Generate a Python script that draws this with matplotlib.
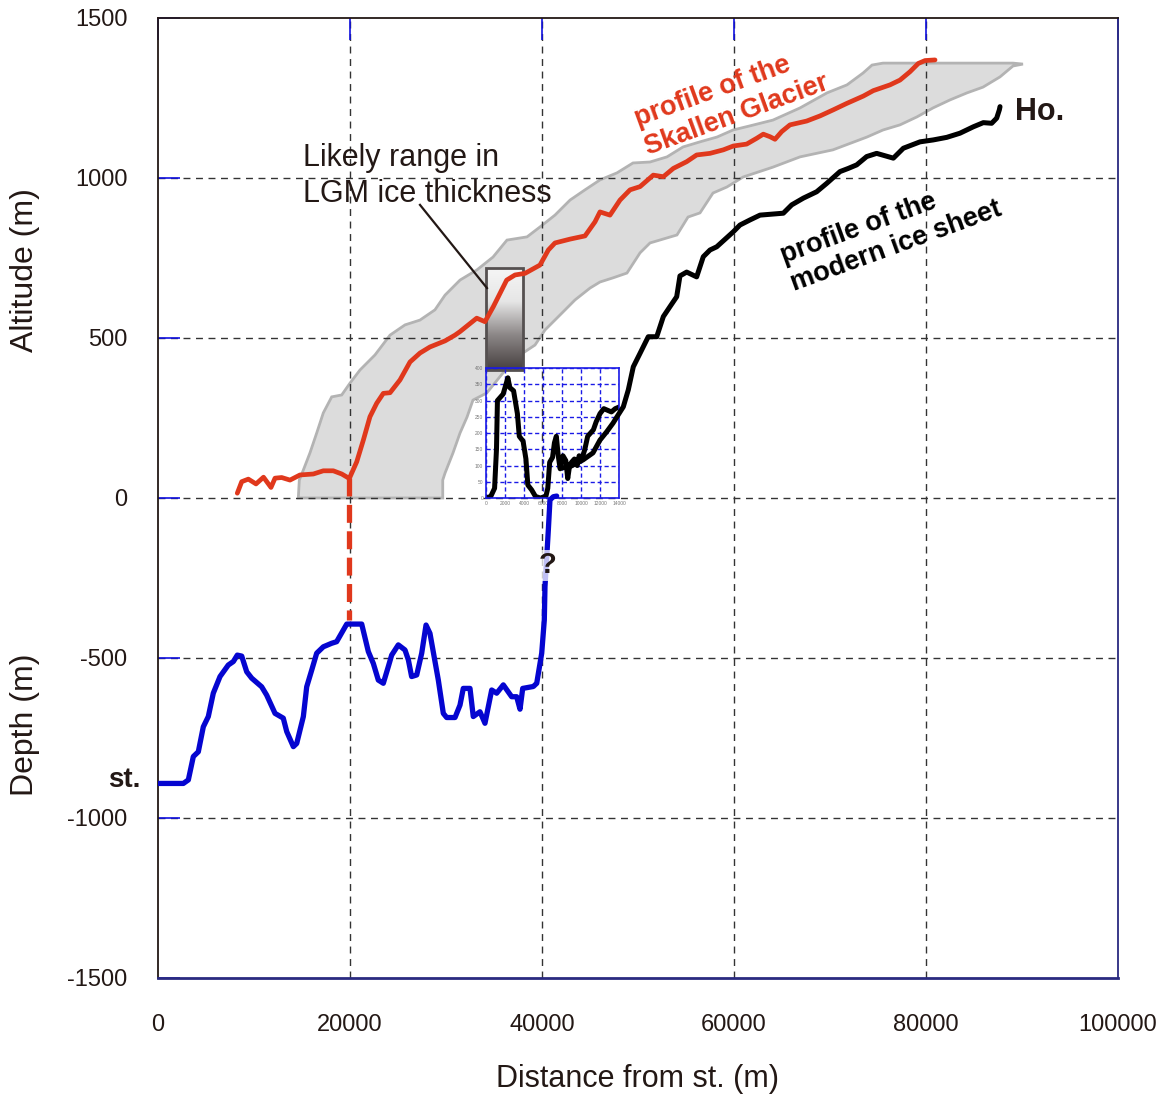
import numpy as np
import matplotlib
matplotlib.use("Agg")
import matplotlib.pyplot as plt
from matplotlib.colors import LinearSegmentedColormap
from matplotlib.patches import Rectangle

plt.rcParams['font.family'] = ['Liberation Sans', 'DejaVu Sans']
plt.rcParams['axes.unicode_minus'] = False

# red: surface profile of the Skallen Glacier (m, m)
skallen_x = [8260, 8720, 9410, 10210, 10990, 11770, 12190, 12880, 13750, 14790, 16180, 17220,
             18260, 19140, 19930, 20700, 21390, 22080, 22780, 23470, 24170, 25210, 26250, 27290,
             28330, 29900, 30940, 31460, 33200, 34060, 34930, 36320, 37190, 38230, 39790, 40660,
             41350, 42920, 44480, 45520, 46040, 47080, 48125, 49170, 50210, 51590, 52640, 53680,
             55070, 56110, 57500, 58890, 59930, 61320, 62360, 63050, 63750, 64270, 64970, 65830,
             67570, 68960, 70340, 71740, 73470, 74510, 76250, 77290, 78330, 79200, 79900, 80940]
skallen_y = [15, 51, 59, 44, 65, 33, 62, 64, 56, 72, 75, 85,
             85, 75, 61, 113, 181, 254, 296, 327, 329, 369, 425, 453,
             472, 491, 509, 520, 562, 551, 598, 681, 697, 702, 728, 775,
             797, 809, 819, 863, 894, 884, 931, 963, 973, 1009, 1004, 1030,
             1051, 1072, 1077, 1088, 1100, 1106, 1124, 1137, 1129, 1121, 1145, 1166,
             1178, 1194, 1213, 1233, 1256, 1273, 1291, 1306, 1332, 1358, 1367, 1369]

# grey band: likely LGM ice surface range
band_top_x = [14615, 14720, 15135, 15830, 16530, 17220, 18095, 19135, 20000, 21040, 22600, 24170,
              25730, 27290, 28850, 29900, 31460, 33230, 34900, 36350, 38440, 39790, 41350, 42920,
              44480, 46040, 47810, 49480, 51250, 53020, 54690, 56460, 58230, 59900, 61670, 64060,
              66880, 69690, 71770, 73440, 74380, 75520, 89060, 90100]
band_top_y = [0, 56, 87, 141, 203, 266, 316, 322, 359, 400, 447, 509,
              541, 556, 588, 634, 681, 713, 753, 806, 816, 847, 884, 931,
              963, 994, 1016, 1047, 1050, 1066, 1097, 1113, 1128, 1150, 1163, 1181,
              1219, 1266, 1291, 1328, 1353, 1359, 1359, 1356]
band_bot_x = [29660, 29660, 29900, 30730, 31460, 32190, 32810, 34240, 35940, 37710, 39270, 40310,
              41880, 43440, 45000, 46040, 47400, 48850, 50210, 51250, 54060, 55210, 56460, 57810,
              59270, 60940, 64060, 66880, 70310, 73850, 75520, 77290, 79060, 80730, 82500, 84270,
              85940, 87710, 89060]
band_bot_y = [0, 56, 78, 141, 203, 253, 306, 328, 391, 447, 478, 525,
              572, 619, 656, 675, 688, 703, 766, 797, 822, 878, 891, 953,
              972, 1003, 1034, 1066, 1088, 1128, 1150, 1166, 1191, 1219, 1244, 1266,
              1284, 1316, 1350]

# black: modern ice sheet profile
ice_x = [42080, 42920, 44270, 45310, 46040, 46740, 47400, 47920, 48470, 48990, 49510, 50210,
         51070, 51950, 52640, 53330, 54030, 54370, 55070, 56110, 56800, 57500, 58200, 59930,
         60620, 61670, 62710, 65140, 66010, 67220, 68610, 69650, 71040, 71910, 72780, 73820,
         74860, 76600, 77640, 79380, 80760, 82160, 83540, 84930, 85970, 86840, 87360, 87640, 87710]
ice_y = [94, 98, 119, 141, 181, 207, 234, 259, 285, 338, 410, 452,
         504, 504, 567, 598, 629, 694, 706, 691, 754, 775, 785, 832,
         853, 869, 884, 890, 916, 937, 957, 983, 1020, 1030, 1041, 1067,
         1077, 1062, 1093, 1113, 1119, 1127, 1140, 1160, 1173, 1171, 1187, 1213, 1223]

# blue: sea floor depth
depth_x = [0, 2640, 3160, 3680, 4200, 4720, 5240, 5760, 6460, 7320, 7850, 8260, 8720, 9240, 9760,
           10800, 11320, 12190, 13050, 13410, 14100, 14450, 15140, 15490, 16010, 16530, 17220,
           18090, 18610, 19660, 21220, 21910, 22430, 22950, 23470, 23990, 24340, 25030, 25730,
           26080, 26420, 26950, 27470, 27920, 28330, 29200, 29720, 30070, 30940, 31460, 31800,
           32500, 32840, 33540, 34060, 34760, 35280, 35970, 36840, 37360, 37710, 37990, 39100,
           39450, 39970, 40240, 40310, 40660, 40830, 41180, 41530]
depth_y = [-892, -892, -881, -808, -793, -715, -683, -610, -558, -522, -511, -491, -494, -543, -563,
           -590, -616, -673, -688, -730, -777, -767, -683, -590, -538, -485, -465,
           -454, -449, -394, -394, -480, -517, -569, -579, -527, -491, -459, -475,
           -506, -558, -553, -485, -397, -423, -569, -673, -686, -686, -647, -595,
           -595, -683, -668, -704, -600, -610, -584, -621, -621, -660, -595, -589,
           -579, -485, -381, -277, -100, -6, 4, 6]

# inset: first 14 km of the ice profile (m, m)
inset_x = [0, 500, 900, 1100, 1200, 1500, 1800, 2200, 2300, 2500, 2900, 3300, 3500, 3900, 4200,
           4400, 4800, 5200, 5700, 6300, 6500, 6700, 7000, 7200, 7400, 7600, 7800, 8100, 8400,
           8600, 8800, 9000, 9300, 9600, 9800, 10100, 10400, 10700, 11000, 11300, 11600, 12000,
           12400, 12800, 13200, 13600, 14000]
inset_y = [0, 5, 30, 150, 300, 310, 320, 360, 370, 340, 330, 260, 190, 175, 120,
           40, 25, 5, 0, 5, 30, 110, 125, 170, 190, 130, 90, 130, 115,
           60, 100, 110, 120, 100, 130, 120, 150, 190, 200, 210, 235, 260,
           275, 270, 265, 275, 280]

# link between the Skallen glacier front and the fjord floor
link_x = [19900, 19900]
link_y = [62, -380]

# LGM thickness box and its pointer
lgm_box = (34170, 38020, 400, 720)
pointer_x = [27290, 34270]
pointer_y = [916, 656]

red = '#e0381c'
blue = '#0505d0'
dark = '#231815'

fig = plt.figure(figsize=(11.62, 11.02), dpi=100)
ax = fig.add_axes([158/1162, 1 - 978/1102, 960/1162, 960/1102])

ax.fill(band_top_x + band_bot_x[::-1], band_top_y + band_bot_y[::-1],
        facecolor='#dcdcdc', edgecolor='#b3b3b3', lw=2, zorder=0.2)

grad = LinearSegmentedColormap.from_list('g', ['#f6f6f6', '#e6e6e6', '#8a8585', '#464040'])
ax.imshow(np.linspace(0, 1, 256)[:, None], cmap=grad, aspect='auto',
          extent=lgm_box, origin='upper', zorder=1.5)
ax.add_patch(Rectangle((lgm_box[0], lgm_box[2]), lgm_box[1] - lgm_box[0], lgm_box[3] - lgm_box[2],
                       fill=False, edgecolor='#555050', lw=2, zorder=1.6))
ax.plot(pointer_x, pointer_y, color=dark, lw=1.6, zorder=1.6)

ax.plot(skallen_x, skallen_y, color=red, lw=3.4, zorder=3, solid_capstyle='round')
ax.plot(link_x, link_y, color=red, lw=3.8, ls=(0, (3.4, 1.6)), zorder=3)
ax.plot(depth_x, depth_y, color=blue, lw=3.8, zorder=3, solid_capstyle='round')
ax.plot(ice_x, ice_y, color='black', lw=3.6, zorder=3, solid_capstyle='round')

ax.set_xlim(0, 100000)
ax.set_ylim(-1500, 1500)
ax.set_xticks(range(0, 100001, 20000))
ax.set_yticks(range(-1500, 1501, 500))
# dashed grid only inside the frame
for gx in range(20000, 100000, 20000):
    ax.axvline(gx, color='#333333', lw=1, ls=(0, (5, 4)), zorder=0.5)
for gy in range(-1000, 1500, 500):
    ax.axhline(gy, color='#333333', lw=1, ls=(0, (5, 4)), zorder=0.5)
ax.tick_params(axis='both', direction='in', length=16, width=1.2, color='#1010e0',
               labelsize=17, labelcolor=dark)
ax.tick_params(axis='x', top=True, bottom=False, pad=26)
ax.tick_params(axis='y', right=False, pad=22)
for s in ax.spines.values():
    s.set_color(dark)
    s.set_linewidth(1.3)
ax.spines['bottom'].set_color('#2a2a80')
ax.spines['bottom'].set_linewidth(2)
ax.spines['right'].set_color('#2a2a80')

ax.set_xlabel('Distance from st. (m)', fontsize=22, labelpad=20, color=dark)
fig.text(25/1162, 1 - 270/1102, 'Altitude (m)', rotation=90, fontsize=23,
         ha='center', va='center', color=dark)
fig.text(25/1162, 1 - 725/1102, 'Depth (m)', rotation=90, fontsize=23,
         ha='center', va='center', color=dark)

ax.text(15100, 1110, 'Likely range in\nLGM ice thickness', fontsize=22, va='top', ha='left',
        color=dark, linespacing=1.25, zorder=4)
ax.text(59800, 1240, 'profile of the\nSkallen Glacier', fontsize=19.5, fontweight='bold',
        color=red, rotation=20, ha='center', va='center', linespacing=1.2,
        multialignment='left', rotation_mode='anchor', zorder=4)
ax.text(76400, 830, 'profile of the\nmodern ice sheet', fontsize=19.5, fontweight='bold',
        color='black', rotation=20, ha='center', va='center', linespacing=1.15,
        multialignment='left', rotation_mode='anchor', zorder=4)
ax.text(89300, 1205, 'Ho.', fontsize=22, fontweight='bold', color=dark, va='center', ha='left')
ax.text(-5200, -880, 'st.', fontsize=20, fontweight='bold', color=dark, va='center', ha='left')
ax.text(40600, -210, '?', fontsize=21, fontweight='bold', color=dark, va='center', ha='center',
        zorder=4, bbox=dict(boxstyle='square,pad=0.05', fc='white', ec='none', alpha=0.75))

ins = ax.inset_axes([34170, 0, 13854, 406], transform=ax.transData, zorder=2.5)
ins.patch.set_alpha(0)
ins.plot(inset_x, inset_y, color='black', lw=3.6, solid_capstyle='round')
ins.set_xlim(0, 14000)
ins.set_ylim(0, 400)
ins.set_xticks(range(0, 14001, 2000))
ins.set_yticks(range(0, 401, 50))
ins.grid(True, color='#1a1ae6', lw=1, ls=(0, (3, 2)))
ins.tick_params(length=0, labelsize=3.5, labelcolor='#777777', pad=2)
for s in ins.spines.values():
    s.set_color('#1a1ae6')
    s.set_linewidth(1.2)

fig.savefig('out.png', dpi=100)
